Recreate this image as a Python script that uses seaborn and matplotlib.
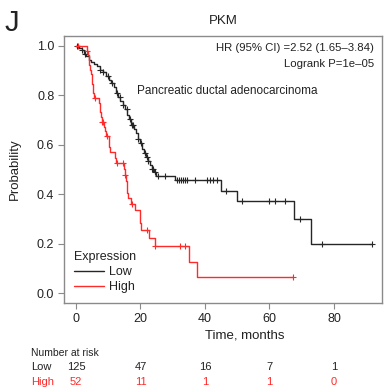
import numpy as np
import pandas as pd
import matplotlib
matplotlib.use("Agg")
import matplotlib.pyplot as plt
import matplotlib.transforms as mtransforms
import seaborn as sns

# ---------------- data ----------------
low_step_time = [0, 1.0, 1.8, 2.5, 3.2, 4.0, 4.8, 5.6, 6.5, 7.4, 8.3, 9.2, 10.2, 11.0, 11.8,
                 12.5, 13.1, 13.8, 14.5, 15.2, 15.8, 16.5, 17.2, 17.9, 18.6, 19.2, 19.9,
                 20.5, 21.1, 21.7, 22.3, 22.9, 23.5, 24.1, 24.8, 30.6, 45.0, 49.8, 67.6,
                 72.8, 91.7]
low_step_surv = [1.0, 0.992, 0.984, 0.968, 0.960, 0.944, 0.936, 0.928, 0.920, 0.904, 0.896,
                 0.880, 0.864, 0.848, 0.832, 0.808, 0.792, 0.776, 0.760, 0.744, 0.720, 0.704,
                 0.680, 0.664, 0.648, 0.624, 0.608, 0.584, 0.568, 0.552, 0.536, 0.520, 0.504,
                 0.490, 0.474, 0.456, 0.412, 0.371, 0.298, 0.197, 0.197]
low_censor = [0.2, 1.8, 2.8, 7.4, 8.5, 10.0, 11.1, 12.6, 13.6, 14.7, 15.7, 16.7, 17.3, 17.8,
              19.3, 20.3, 21.4, 22.0, 22.4, 23.5, 24.0, 24.5, 25.5, 27.6, 31.2, 32.0, 32.5,
              33.1, 33.8, 34.5, 36.9, 40.5, 41.6, 42.6, 43.8, 46.5, 51.4, 59.9, 61.7, 64.8,
              69.5, 76.2, 91.7]

high_step_time = [0, 3.3, 3.6, 3.9, 4.2, 4.5, 4.8, 5.0, 5.1, 5.2, 5.3, 5.5, 7.2, 7.4, 7.6,
                  7.8, 8.0, 8.7, 9.0, 9.3, 10.3, 10.5, 12.2, 12.4, 15.0, 15.2, 15.5, 15.7,
                  15.9, 16.2, 17.0, 18.2, 19.8, 20.0, 20.2, 22.7, 24.5, 35.1, 37.6, 67.4]
high_step_surv = [1.0, 0.981, 0.962, 0.942, 0.923, 0.904, 0.885, 0.865, 0.846, 0.827, 0.808,
                  0.788, 0.769, 0.750, 0.731, 0.712, 0.692, 0.673, 0.654, 0.635, 0.592, 0.570,
                  0.548, 0.526, 0.502, 0.478, 0.454, 0.430, 0.406, 0.385, 0.362, 0.338, 0.310,
                  0.284, 0.257, 0.222, 0.190, 0.127, 0.064, 0.064]
high_censor = [0.6, 3.3, 5.9, 8.0, 8.5, 9.5, 12.6, 14.7, 15.2, 17.3, 22.1, 24.5, 32.2, 33.8,
               67.4]

risk_times = [0, 20, 40, 60, 80]
risk_low = [125, 47, 16, 7, 1]
risk_high = [52, 11, 1, 1, 0]

title = "PKM"
hr_text = "HR (95% CI) =2.52 (1.65\u20133.84)"
p_text = "Logrank P=1e\u201305"
cohort_text = "Pancreatic ductal adenocarcinoma"

# ---------------- style ----------------
sns.set_theme(style="white")
plt.rcParams["font.family"] = ["Liberation Sans", "DejaVu Sans"]
TXT = "#222222"
LOWC = "#262626"
HIGHC = "#ff2a2a"
GRAY = "#8a8a8a"

fig = plt.figure(figsize=(3.84, 3.92), dpi=100)
ax = fig.add_axes([64 / 384, 1 - 303 / 392, (382 - 64) / 384, (303 - 36) / 392])

df = pd.concat([
    pd.DataFrame({"time": low_step_time, "surv": low_step_surv, "Expression": "Low"}),
    pd.DataFrame({"time": high_step_time, "surv": high_step_surv, "Expression": "High"}),
], ignore_index=True)

pal = {"Low": LOWC, "High": HIGHC}
sns.lineplot(data=df, x="time", y="surv", hue="Expression", palette=pal,
             drawstyle="steps-post", estimator=None, linewidth=1.0, ax=ax)


def surv_at(times, steps_t, steps_s):
    idx = np.searchsorted(np.asarray(steps_t), np.asarray(times), side="right") - 1
    return np.asarray(steps_s)[idx]


sns.scatterplot(x=low_censor, y=surv_at(low_censor, low_step_time, low_step_surv),
                marker="+", color=LOWC, s=24, linewidth=0.8, legend=False, ax=ax)
sns.scatterplot(x=high_censor, y=surv_at(high_censor, high_step_time, high_step_surv),
                marker="+", color=HIGHC, s=24, linewidth=0.8, legend=False, ax=ax)

ax.set_xlim(-3.7, 94.9)
ax.set_ylim(-0.04, 1.04)
ax.set_xticks([0, 20, 40, 60, 80])
ax.set_yticks([0.0, 0.2, 0.4, 0.6, 0.8, 1.0])
ax.set_yticklabels(["0.0", "0.2", "0.4", "0.6", "0.8", "1.0"])
ax.tick_params(axis="both", which="both", direction="out", length=4, width=0.8,
               color=GRAY, labelsize=9, labelcolor=TXT, pad=3, bottom=True, left=True)
for sp in ax.spines.values():
    sp.set_color(GRAY)
    sp.set_linewidth(1.0)
    sp.set_visible(True)

ax.set_xlabel("Time, months", fontsize=9.5, color=TXT)
ax.xaxis.set_label_coords((245 - 64) / 318, -0.1)
ax.set_ylabel("Probability", fontsize=9.5, color=TXT)
ax.yaxis.set_label_coords(-0.135, 0.5)
ax.set_title(title, fontsize=9.5, color=TXT, pad=9)

ax.text(0.975, 0.955, hr_text, transform=ax.transAxes, ha="right", va="center",
        fontsize=8.2, color=TXT)
ax.text(0.975, 0.895, p_text, transform=ax.transAxes, ha="right", va="center",
        fontsize=8.2, color=TXT)
ax.text((137 - 64) / 318, 1 - (91 - 36) / 267, cohort_text, transform=ax.transAxes,
        ha="left", va="center", fontsize=8.5, color=TXT)

handles, labels = ax.get_legend_handles_labels()
leg = ax.legend(handles, labels, title="Expression", loc="lower left",
                bbox_to_anchor=(0.0, 0.0), frameon=False, fontsize=9, title_fontsize=9,
                handlelength=2.4, handletextpad=0.4, labelspacing=0.25,
                borderaxespad=0.4)
leg._legend_box.align = "left"
for t in leg.get_texts():
    t.set_color(TXT)
leg.get_title().set_color(TXT)

fig.text(5 / 384, 1 - 23 / 392, "J", fontsize=21, color=TXT, ha="left", va="center")

# number at risk table
trans = mtransforms.blended_transform_factory(ax.transData, fig.transFigure)
fig.text(31 / 384, 1 - 353 / 392, "Number at risk", fontsize=7.5, color=TXT,
         ha="left", va="center")
fig.text(31 / 384, 1 - 367 / 392, "Low", fontsize=8, color=TXT, ha="left", va="center")
fig.text(31 / 384, 1 - 382 / 392, "High", fontsize=8, color=HIGHC, ha="left", va="center")
for t, nl, nh in zip(risk_times, risk_low, risk_high):
    ax.text(t, 1 - 367 / 392, str(nl), transform=trans, fontsize=8, color=TXT,
            ha="center", va="center", clip_on=False)
    ax.text(t, 1 - 382 / 392, str(nh), transform=trans, fontsize=8, color=HIGHC,
            ha="center", va="center", clip_on=False)

fig.savefig("out.png", dpi=100)
